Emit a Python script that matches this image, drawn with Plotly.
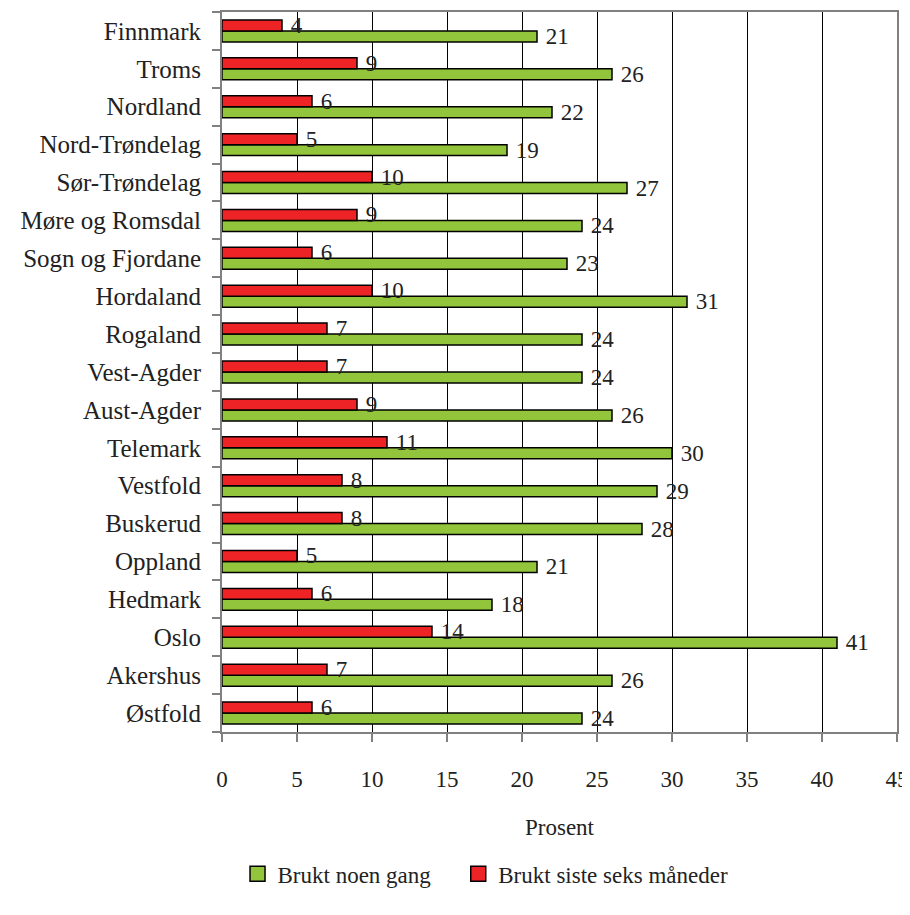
import plotly.graph_objects as go

categories = ["Østfold", "Akershus", "Oslo", "Hedmark", "Oppland", "Buskerud", "Vestfold",
              "Telemark", "Aust-Agder", "Vest-Agder", "Rogaland", "Hordaland",
              "Sogn og Fjordane", "Møre og Romsdal", "Sør-Trøndelag", "Nord-Trøndelag",
              "Nordland", "Troms", "Finnmark"]
brukt_noen_gang = [24, 26, 41, 18, 21, 28, 29, 30, 26, 24, 24, 31, 23, 24, 27, 19, 22, 26, 21]
brukt_siste_seks = [6, 7, 14, 6, 5, 8, 8, 11, 9, 7, 7, 10, 6, 9, 10, 5, 6, 9, 4]
x_ticks = [0, 5, 10, 15, 20, 25, 30, 35, 40, 45]
series_names = ["Brukt noen gang", "Brukt siste seks måneder"]

FONT = "Liberation Serif, Times New Roman, DejaVu Serif, serif"
GREEN = "#92C43C"
RED = "#EE2326"
FS = 23

fig = go.Figure()
for name, vals, col in [(series_names[0], brukt_noen_gang, GREEN),
                        (series_names[1], brukt_siste_seks, RED)]:
    fig.add_trace(go.Bar(
        y=categories, x=vals, orientation="h", name=name, showlegend=False,
        marker=dict(color=col, line=dict(color="black", width=1.5)),
        text=["\u00a0" + str(v) for v in vals], textposition="outside", constraintext="none",
        textfont=dict(family=FONT, size=FS, color="#222"), cliponaxis=False,
    ))
# legend entries with larger square swatches, one legend per entry
for name, col, lg in [(series_names[0], GREEN, "legend"), (series_names[1], RED, "legend2")]:
    fig.add_trace(go.Scatter(
        x=[None], y=[None], mode="markers", name=name, legend=lg,
        marker=dict(symbol="square", size=15, color=col, line=dict(color="black", width=1.5)),
    ))

leg_common = dict(orientation="h", xanchor="left", y=-0.167, yanchor="top",
                  font=dict(family=FONT, size=FS), itemwidth=30, bgcolor="rgba(0,0,0,0)")

fig.update_layout(
    width=902, height=907,
    margin=dict(l=214, r=13, t=4, b=183, autoexpand=False),
    paper_bgcolor="white", plot_bgcolor="white",
    barmode="group", bargap=0.42, bargroupgap=0,
    font=dict(family=FONT, size=FS, color="#222"),
    showlegend=True,
    legend=dict(x=0.023, **leg_common),
    legend2=dict(x=0.350, **leg_common),
    xaxis=dict(
        range=[0, 45], tickvals=x_ticks, ticktext=[str(t) for t in x_ticks],
        showgrid=True, gridcolor="black", gridwidth=1,
        showline=True, linecolor="#808080", linewidth=2, mirror=True,
        ticks="outside", ticklen=8, tickcolor="#808080", tickwidth=2,
        ticklabelstandoff=17, automargin=False,
        tickfont=dict(family=FONT, size=FS),
        title=dict(text="Prosent", font=dict(family=FONT, size=FS), standoff=28),
        zeroline=False,
    ),
    yaxis=dict(
        showline=True, linecolor="#808080", linewidth=2, mirror=True,
        ticks="outside", ticklen=8, tickcolor="#808080", tickwidth=2,
        tickson="boundaries", showgrid=False, ticklabelstandoff=14, automargin=False,
        tickfont=dict(family=FONT, size=25),
    ),
)

fig.write_html("out.html")
